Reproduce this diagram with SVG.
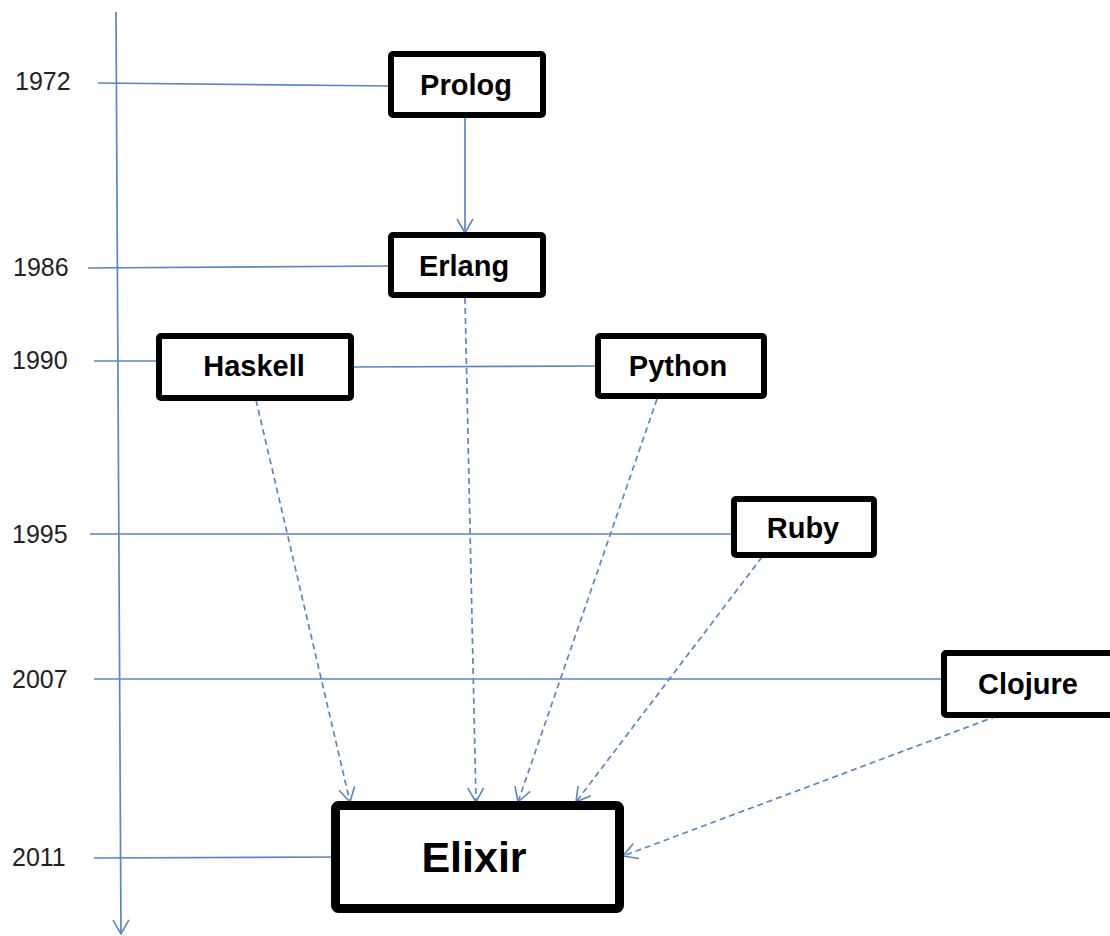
<svg xmlns="http://www.w3.org/2000/svg" width="1110" height="936" viewBox="0 0 1110 936">
<defs>
<marker id="ah" viewBox="0 0 20 20" refX="18" refY="10" markerWidth="20" markerHeight="20" markerUnits="userSpaceOnUse" orient="auto">
<polyline points="4,2 18,10 4,18" fill="none" stroke="#5a86c5" stroke-width="1.6"/>
</marker>
<style>
.ln{stroke:#5a86c5;stroke-width:1.7;fill:none}
.dl{stroke:#5a86c5;stroke-width:1.7;fill:none;stroke-dasharray:6 4}
.bx{fill:#fff;stroke:#000;stroke-width:6}
.bxl{fill:#fff;stroke:#000;stroke-width:9}
.lb{font-family:"Liberation Sans",Arial,sans-serif;font-weight:bold;font-size:29px;fill:#000;text-anchor:middle}
.el{font-family:"Liberation Sans",Arial,sans-serif;font-weight:bold;font-size:43px;fill:#000;text-anchor:middle}
.yr{font-family:"Liberation Sans",Arial,sans-serif;font-size:25px;fill:#222}
</style>
</defs>
<rect width="1110" height="936" fill="#fff"/>
<g id="connectors">
<line class="ln" x1="116" y1="12" x2="121" y2="934" marker-end="url(#ah)"/>
<line class="ln" x1="98" y1="83" x2="391" y2="86"/>
<line class="ln" x1="88" y1="268" x2="391" y2="266"/>
<line class="ln" x1="94" y1="361" x2="159" y2="361"/>
<line class="ln" x1="351" y1="367" x2="598" y2="366"/>
<line class="ln" x1="90" y1="534" x2="734" y2="534"/>
<line class="ln" x1="94" y1="679" x2="944" y2="679"/>
<line class="ln" x1="94" y1="858" x2="335" y2="857"/>
<line class="ln" x1="465" y1="118" x2="465" y2="233" marker-end="url(#ah)"/>
<line class="dl" x1="256" y1="400" x2="350" y2="802" marker-end="url(#ah)"/>
<line class="dl" x1="465" y1="298" x2="476" y2="802" marker-end="url(#ah)"/>
<line class="dl" x1="657" y1="399" x2="518" y2="802" marker-end="url(#ah)"/>
<line class="dl" x1="762" y1="557" x2="576" y2="802" marker-end="url(#ah)"/>
<line class="dl" x1="997" y1="716" x2="623" y2="856" marker-end="url(#ah)"/>
</g>
<g id="years">
<text class="yr" x="15" y="90">1972</text>
<text class="yr" x="13" y="276">1986</text>
<text class="yr" x="12" y="369">1990</text>
<text class="yr" x="12" y="543">1995</text>
<text class="yr" x="12" y="688">2007</text>
<text class="yr" x="12" y="866">2011</text>
</g>
<g id="prolog"><rect class="bx" x="391" y="54" width="152" height="61" rx="2"/><text class="lb" x="466" y="95">Prolog</text></g>
<g id="erlang"><rect class="bx" x="391" y="235" width="152" height="60" rx="2"/><text class="lb" x="464" y="276">Erlang</text></g>
<g id="haskell"><rect class="bx" x="159" y="336" width="192" height="62" rx="2"/><text class="lb" x="254" y="376">Haskell</text></g>
<g id="python"><rect class="bx" x="598" y="336" width="166" height="60" rx="2"/><text class="lb" x="678" y="376">Python</text></g>
<g id="ruby"><rect class="bx" x="734" y="499" width="140" height="56" rx="2"/><text class="lb" x="803" y="538">Ruby</text></g>
<g id="clojure"><rect class="bx" x="944" y="653" width="180" height="62" rx="2"/><text class="lb" x="1028" y="694">Clojure</text></g>
<g id="elixir"><rect class="bxl" x="335.5" y="805.5" width="284" height="103" rx="3"/><text class="el" x="474" y="872">Elixir</text></g>
</svg>
